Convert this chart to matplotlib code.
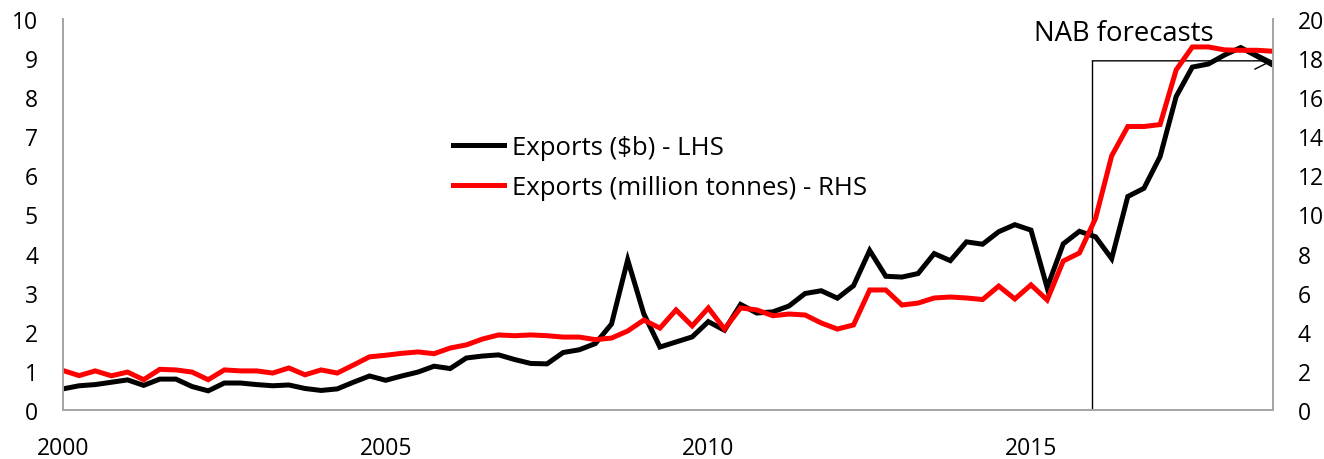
import matplotlib
matplotlib.use("Agg")
import matplotlib.pyplot as plt
import numpy as np

plt.rcParams['font.family'] = ['Open Sans', 'DejaVu Sans']

# quarterly, 2000 Q1 .. 2018 Q4
quarters = 2000 + np.arange(76) / 4

exports_value = [  # $b, LHS
    0.54, 0.62, 0.65, 0.71, 0.77, 0.63, 0.79, 0.79, 0.60, 0.49,
    0.69, 0.69, 0.65, 0.62, 0.64, 0.55, 0.50, 0.54, 0.71, 0.87,
    0.76, 0.87, 0.97, 1.12, 1.06, 1.33, 1.38, 1.41, 1.29, 1.19,
    1.18, 1.47, 1.54, 1.70, 2.20, 3.84, 2.46, 1.61, 1.74, 1.87,
    2.26, 2.04, 2.70, 2.48, 2.51, 2.66, 2.98, 3.05, 2.86, 3.18,
    4.08, 3.42, 3.40, 3.49, 4.00, 3.82, 4.30, 4.24, 4.56, 4.74,
    4.60, 3.13, 4.25, 4.57, 4.43, 3.87, 5.46, 5.67, 6.48, 8.02,
    8.77, 8.85, 9.08, 9.27, 9.05, 8.82,
]

exports_volume = [  # million tonnes, RHS
    2.02, 1.76, 2.00, 1.75, 1.94, 1.55, 2.08, 2.05, 1.94, 1.55,
    2.05, 2.00, 2.00, 1.89, 2.15, 1.80, 2.05, 1.89, 2.30, 2.72,
    2.80, 2.90, 2.97, 2.88, 3.17, 3.33, 3.63, 3.84, 3.80, 3.84,
    3.80, 3.73, 3.73, 3.60, 3.68, 4.04, 4.60, 4.19, 5.12, 4.30,
    5.22, 4.14, 5.22, 5.12, 4.82, 4.91, 4.86, 4.45, 4.14, 4.35,
    6.14, 6.14, 5.37, 5.47, 5.73, 5.78, 5.73, 5.65, 6.34, 5.68,
    6.40, 5.63, 7.62, 8.03, 9.80, 13.00, 14.50, 14.50, 14.60, 17.40,
    18.57, 18.57, 18.42, 18.40, 18.40, 18.35,
]

labels = ['Exports ($b) - LHS', 'Exports (million tonnes) - RHS']
year_ticks = [2000, 2005, 2010, 2015]
forecast_start = 2015.95

W, H = 1324, 460
fig = plt.figure(figsize=(W / 100, H / 100), dpi=100)
ax = fig.add_axes([63 / W, 1 - 411 / H, (1273 - 63) / W, (411 - 20) / H])
ax2 = ax.twinx()

grey = '#a6a6a6'
for a in (ax, ax2):
    a.spines['top'].set_visible(False)
    for s in ('left', 'right', 'bottom'):
        a.spines[s].set_color(grey)
        a.spines[s].set_linewidth(1.3)
    a.tick_params(length=0, labelsize=16.5, colors='black')

l1, = ax.plot(quarters, exports_value, color='black', lw=3.6, solid_joinstyle='miter')
l2, = ax2.plot(quarters, exports_volume, color='#ff0000', lw=3.6, solid_joinstyle='miter')

ax.set_xlim(quarters[0], quarters[-1])
ax.set_ylim(0, 10)
ax2.set_ylim(0, 20)
ax.set_yticks(range(0, 11))
ax2.set_yticks(range(0, 21, 2))
ax.set_xticks(year_ticks)
ax.tick_params(axis='y', pad=18)
ax2.tick_params(axis='y', pad=18)
ax.tick_params(axis='x', pad=19)

# forecast marker
ax.plot([forecast_start, forecast_start], [0, 8.93], color='black', lw=1)
ax.annotate('', xy=(quarters[-1], 8.93), xytext=(forecast_start, 8.93),
            arrowprops=dict(arrowstyle='->', color='black', lw=1,
                            mutation_scale=30, shrinkA=0, shrinkB=0))
ax.text(2015.05, 9.46, 'NAB forecasts', fontsize=19.8, ha='left', va='baseline')

ax2.legend([l1, l2], labels, loc='upper left', bbox_to_anchor=(0.322, 0.704),
           frameon=False, fontsize=18.5, handlelength=2.0, handletextpad=0.3,
           labelspacing=0.58, borderpad=0, borderaxespad=0)

fig.savefig('out.png', dpi=100)
